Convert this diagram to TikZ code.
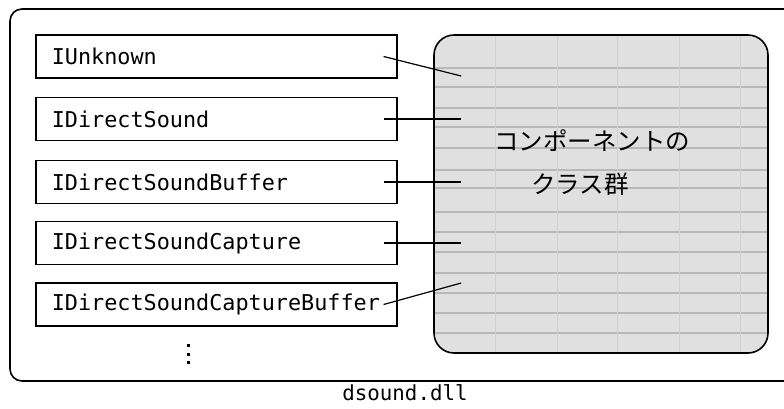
\documentclass[tikz,border=0pt]{standalone}
\usepackage{fontspec}
\newfontfamily\monof{DejaVu Sans Mono}
\newfontfamily\cjkf{Noto Sans CJK JP}
\begin{document}
\begin{tikzpicture}[x=1pt,y=-1pt,
  ifbox/.style={draw,line width=1.6pt,anchor=west,minimum height=43pt,
    text width=329pt,inner xsep=16pt,align=left,
    font=\monof\fontsize{21.8}{24}\selectfont},
  conn/.style={line width=1.2pt},
  cjktext/.style={font=\cjkf\fontsize{24.5}{28}\selectfont,inner sep=0pt},
  dotsq/.style={fill=black,minimum size=3pt,inner sep=0pt}]
\useasboundingbox (0,0) rectangle (784,408);
\begin{scope}
\clip (0,0) rectangle (784,408);
\draw[line width=1.6pt,rounded corners=12pt] (10,9) rectangle (800,381);
\end{scope}
% component class group
\node[draw,line width=1.6pt,rounded corners=20pt,fill=black!12,
  minimum width=334pt,minimum height=318pt,inner sep=0pt,
  path picture={
    \foreach \yy in {68,87,108,127,148,170,188,212,232,252,273,293,313,333}
      \draw[black!28,line width=2pt] (-190,\yy-194) -- (190,\yy-194);
    \foreach \xx in {495,557,617,679,740}
      \draw[black!18,line width=0.5pt] (\xx-601,-180) -- (\xx-601,180);
  }] (cls) at (601,194) {};
\node[cjktext] (t1) at (592,141) {コンポーネントの};
\node[cjktext] (t2) at (580,184) {クラス群};
% interface boxes
\node[ifbox] (b1) at (35,56.5) {IUnknown};
\node[ifbox] (b2) at (35,119) {IDirectSound};
\node[ifbox] (b3) at (35,182) {IDirectSoundBuffer};
\node[ifbox] (b4) at (35,243) {IDirectSoundCapture};
\node[ifbox] (b5) at (35,304.5) {IDirectSoundCaptureBuffer};
% connector end points
\coordinate (s1) at ([xshift=-14pt]b1.east);
\coordinate (s2) at ([xshift=-14pt]b2.east);
\coordinate (s3) at ([xshift=-14pt]b3.east);
\coordinate (s4) at ([xshift=-14pt]b4.east);
\coordinate (s5) at ([xshift=-14pt]b5.east);
\coordinate (e1) at ([xshift=28pt]cls.west |- 0,76);
\coordinate (e2) at ([xshift=28pt]cls.west |- 0,119);
\coordinate (e3) at ([xshift=28pt]cls.west |- 0,182);
\coordinate (e4) at ([xshift=28pt]cls.west |- 0,243);
\coordinate (e5) at ([xshift=28pt]cls.west |- 0,283);
\draw[conn] (s1) -- (e1);
\draw[conn] (s2) -- (e2);
\draw[conn] (s3) -- (e3);
\draw[conn] (s4) -- (e4);
\draw[conn] (s5) -- (e5);
% vertical ellipsis
\node[dotsq] (d1) at (188,345) {};
\node[dotsq] (d2) at (188,354) {};
\node[dotsq] (d3) at (188,362) {};
% caption
\node[font=\monof\fontsize{20.8}{24}\selectfont,inner sep=0pt] (cap) at (405,393) {dsound.dll};
\end{tikzpicture}
\end{document}
